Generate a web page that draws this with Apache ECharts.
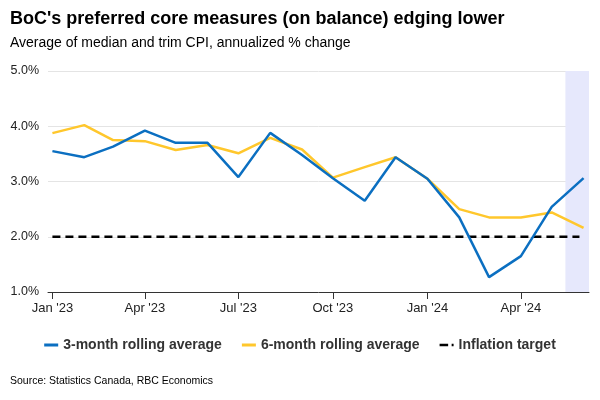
<!DOCTYPE html>
<html>
<head>
<meta charset="utf-8">
<script src="https://cdn.jsdelivr.net/npm/echarts@6/dist/echarts.min.js"></script>
<style>html,body{margin:0;padding:0;background:#fff}#c{width:600px;height:400px}</style>
</head>
<body>
<div id="c"></div>
<script>
var months = ['2023-01','2023-02','2023-03','2023-04','2023-05','2023-06','2023-07','2023-08','2023-09','2023-10','2023-11','2023-12','2024-01','2024-02','2024-03','2024-04','2024-05','2024-06'];
var threeMonth = [3.55,3.44,3.63,3.92,3.70,3.70,3.08,3.88,3.48,3.06,2.65,3.44,3.05,2.35,1.27,1.65,2.54,3.06];
var sixMonth = [3.875,4.02,3.75,3.73,3.57,3.66,3.51,3.79,3.58,3.07,3.26,3.44,3.05,2.50,2.35,2.35,2.44,2.16];
var targetValue = 2.0;
var tickMonths = ['2023-01','2023-04','2023-07','2023-10','2024-01','2024-04'];
var monthNames = ['Jan','Feb','Mar','Apr','May','Jun','Jul','Aug','Sep','Oct','Nov','Dec'];

function ts(s, day, hour) {
  var p = s.split('-');
  return new Date(+p[0], +p[1] - 1, day || 1, hour || 0).getTime();
}
var DAY = 86400000;
var xMin = ts(months[0]) - 4.3 * DAY;
var xMax = ts(months[months.length - 1]) + 5.3 * DAY;
var bandStart = ts('2024-05', 14, 8);

var blueData = months.map(function (m, i) { return [ts(m), threeMonth[i]]; });
var yellowData = months.map(function (m, i) { return [ts(m), sixMonth[i]]; });
var targetData = [[ts(months[0]), targetValue], [ts('2024-05', 28), targetValue]];
var tickValues = tickMonths.map(function (m) { return ts(m); });

var chart = echarts.init(document.getElementById('c'), null, {renderer: 'canvas'});
var FONT = 'Arial, "Liberation Sans", sans-serif';
chart.setOption({
  animation: false,
  textStyle: {fontFamily: FONT},
  title: [
    {text: "BoC's preferred core measures (on balance) edging lower", left: 5, top: 5,
     textStyle: {fontSize: 18, fontWeight: 'bold', color: '#000', fontFamily: FONT}},
    {text: 'Average of median and trim CPI, annualized % change', left: 5, top: 31,
     textStyle: {fontSize: 14, fontWeight: 'normal', color: '#000', fontFamily: FONT}}
  ],
  grid: {left: 48, right: 11, top: 71, bottom: 108},
  legend: {
    top: 333, left: 'center', itemWidth: 14, itemHeight: 3, itemGap: 20,
    textStyle: {fontSize: 14, fontWeight: 'bold', color: '#333', fontFamily: FONT},
    data: [
      {name: '3-month rolling average', icon: 'rect'},
      {name: '6-month rolling average', icon: 'rect'},
      {name: 'Inflation target', icon: 'path://M0,0H11V3H0Z M15.5,0H18V3H15.5Z'}
    ]
  },
  xAxis: {
    type: 'value', min: xMin, max: xMax,
    axisLine: {show: true, lineStyle: {color: '#333', width: 1}},
    axisTick: {show: true, length: 7, lineStyle: {color: '#333'}, customValues: tickValues},
    axisLabel: {
      customValues: tickValues, fontSize: 13, color: '#222', margin: 10, fontFamily: FONT,
      formatter: function (v) {
        var d = new Date(v);
        return monthNames[d.getMonth()] + " '" + String(d.getFullYear()).slice(2);
      }
    },
    splitLine: {show: false}
  },
  yAxis: {
    type: 'value', min: 1, max: 5, interval: 1,
    axisLine: {show: false}, axisTick: {show: false},
    axisLabel: {fontSize: 12.5, color: '#222', margin: 9, fontFamily: FONT,
      formatter: function (v) { return v.toFixed(1) + '%'; }},
    splitLine: {lineStyle: {color: '#e4e4e4', width: 1}}
  },
  series: [
    {name: '3-month rolling average', type: 'line', data: blueData, showSymbol: false,
     color: '#0b6fc1', lineStyle: {width: 2.5, color: '#0b6fc1'}, z: 4,
     markArea: {silent: true, itemStyle: {color: '#e6e8fc'},
       data: [[{xAxis: bandStart}, {xAxis: xMax}]]}},
    {name: '6-month rolling average', type: 'line', data: yellowData, showSymbol: false,
     color: '#ffc72c', lineStyle: {width: 2.5, color: '#ffc72c'}, z: 3},
    {name: 'Inflation target', type: 'line', data: targetData, showSymbol: false,
     color: '#000', lineStyle: {width: 2.5, color: '#000', type: [8, 5]}, z: 2}
  ],
  graphic: [
    {type: 'text', left: 10, top: 376,
     style: {text: 'Source: Statistics Canada, RBC Economics', fontSize: 10.5, fill: '#000', font: '10.5px Arial, "Liberation Sans", sans-serif'}}
  ]
});
</script>
</body>
</html>
